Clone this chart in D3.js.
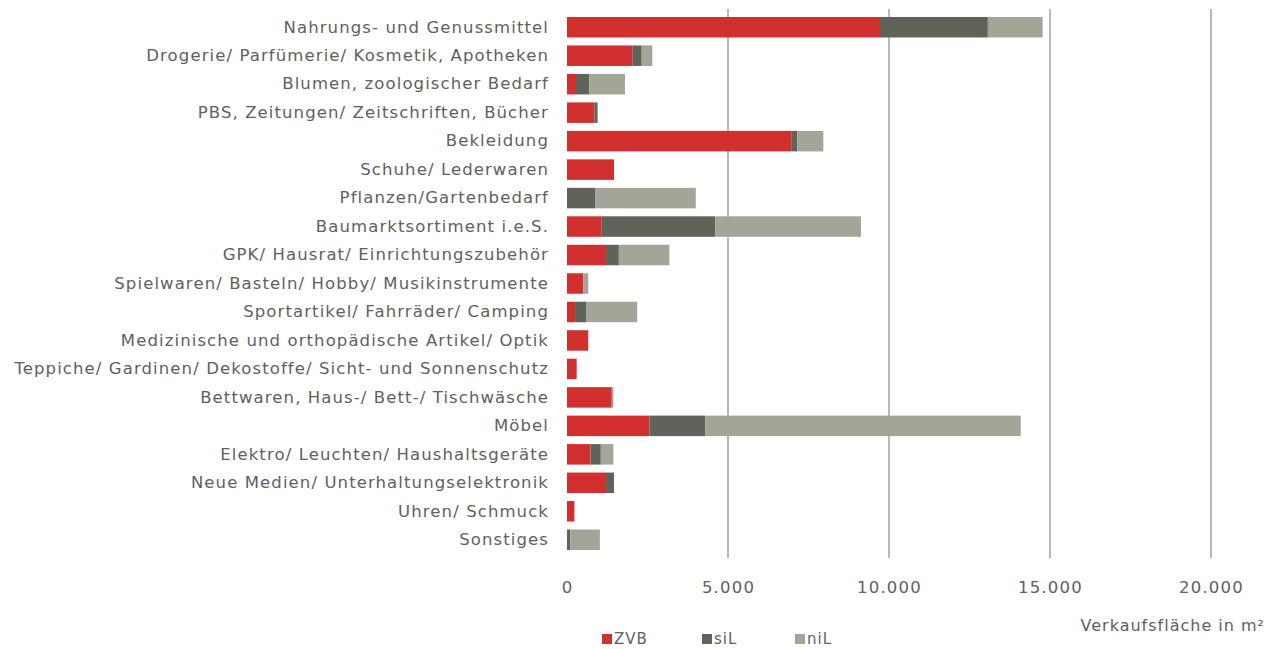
<!DOCTYPE html>
<html>
<head>
<meta charset="utf-8">
<script src="https://cdn.jsdelivr.net/npm/d3@7"></script>
<style>
  html, body { margin: 0; padding: 0; background: #fff; }
  svg text { font-family: "DejaVu Sans", sans-serif; fill: #606060; }
</style>
</head>
<body>
<svg id="chart" width="1279" height="649"></svg>
<script>
// Sortimentsgruppen (top to bottom)
const categories = [
  "Nahrungs- und Genussmittel",
  "Drogerie/ Parfümerie/ Kosmetik, Apotheken",
  "Blumen, zoologischer Bedarf",
  "PBS, Zeitungen/ Zeitschriften, Bücher",
  "Bekleidung",
  "Schuhe/ Lederwaren",
  "Pflanzen/Gartenbedarf",
  "Baumarktsortiment i.e.S.",
  "GPK/ Hausrat/ Einrichtungszubehör",
  "Spielwaren/ Basteln/ Hobby/ Musikinstrumente",
  "Sportartikel/ Fahrräder/ Camping",
  "Medizinische und orthopädische Artikel/ Optik",
  "Teppiche/ Gardinen/ Dekostoffe/ Sicht- und Sonnenschutz",
  "Bettwaren, Haus-/ Bett-/ Tischwäsche",
  "Möbel",
  "Elektro/ Leuchten/ Haushaltsgeräte",
  "Neue Medien/ Unterhaltungselektronik",
  "Uhren/ Schmuck",
  "Sonstiges"
];

// Verkaufsfläche in m² per location type
const zvb = [9720, 2040, 280, 850, 6980, 1460, 0, 1080, 1210, 510, 250, 660, 300, 1390, 2560, 730, 1210, 230, 0];
const sil = [3350, 280, 410, 100, 170, 0, 870, 3530, 400, 0, 340, 0, 0, 0, 1730, 320, 250, 0, 100];
const nil = [1700, 330, 1110, 0, 810, 0, 3130, 4520, 1570, 150, 1590, 0, 0, 50, 9800, 390, 0, 0, 920];

const seriesNames = ["ZVB", "siL", "niL"];
const seriesColors = ["#d22f2f", "#60635a", "#a2a597"];

const xTicks = [0, 5000, 10000, 15000, 20000];
const xTickLabels = ["0", "5.000", "10.000", "15.000", "20.000"];
const axisTitle = "Verkaufsfläche in m²";

const svg = d3.select("#chart");
const margin = { left: 567, right: 68, top: 13, bottom: 95 };
const height = 649 - margin.top - margin.bottom;

const x = d3.scaleLinear().domain([0, 20000]).range([0, 644]);
const y = d3.scaleBand().domain(categories).range([0, height]).paddingInner(0.28).paddingOuter(0.14);

const g = svg.append("g").attr("transform", `translate(${margin.left},${margin.top})`);

// vertical gridlines
g.append("g")
  .selectAll("line")
  .data(xTicks.filter(d => d > 0))
  .join("line")
  .attr("x1", d => x(d)).attr("x2", d => x(d))
  .attr("y1", -4).attr("y2", height + 4)
  .attr("stroke", "#b9b9b9")
  .attr("stroke-width", 2);

// stacked bars
const rows = categories.map((c, i) => ({ cat: c, ZVB: zvb[i], siL: sil[i], niL: nil[i] }));
const stacked = d3.stack().keys(seriesNames)(rows);

g.append("g")
  .selectAll("g")
  .data(stacked)
  .join("g")
  .attr("fill", (d, i) => seriesColors[i])
  .selectAll("rect")
  .data(d => d)
  .join("rect")
  .attr("x", d => x(d[0]))
  .attr("width", d => Math.max(0, x(d[1]) - x(d[0])))
  .attr("y", d => y(d.data.cat))
  .attr("height", y.bandwidth());

// category labels
const yAxis = g.append("g")
  .call(d3.axisLeft(y).tickSize(0).tickPadding(18));
yAxis.select(".domain").remove();
yAxis.selectAll("text")
  .style("font-size", "16.5px")
  .style("letter-spacing", "1.1px")
  .attr("fill", "#606060");

// value axis labels
const xAxis = g.append("g")
  .attr("transform", `translate(0,${height})`)
  .call(d3.axisBottom(x).tickValues(xTicks).tickFormat((d, i) => xTickLabels[i]).tickSize(0).tickPadding(27));
xAxis.select(".domain").remove();
xAxis.selectAll("text")
  .style("font-size", "16.5px")
  .style("letter-spacing", "1.2px")
  .attr("fill", "#606060");

// axis title
svg.append("text")
  .attr("x", 1265)
  .attr("y", 631)
  .attr("text-anchor", "end")
  .style("font-size", "16px")
  .style("letter-spacing", "1px")
  .text(axisTitle);

// legend
const legendX = [602, 702, 795];
const legend = svg.append("g")
  .selectAll("g")
  .data(seriesNames)
  .join("g")
  .attr("transform", (d, i) => `translate(${legendX[i]},644)`);
legend.append("rect")
  .attr("x", 0).attr("y", -10)
  .attr("width", 10).attr("height", 10)
  .attr("fill", (d, i) => seriesColors[i]);
legend.append("text")
  .attr("x", 12).attr("y", 0)
  .style("font-size", "15px")
  .style("letter-spacing", "1px")
  .text(d => d);
</script>
</body>
</html>
